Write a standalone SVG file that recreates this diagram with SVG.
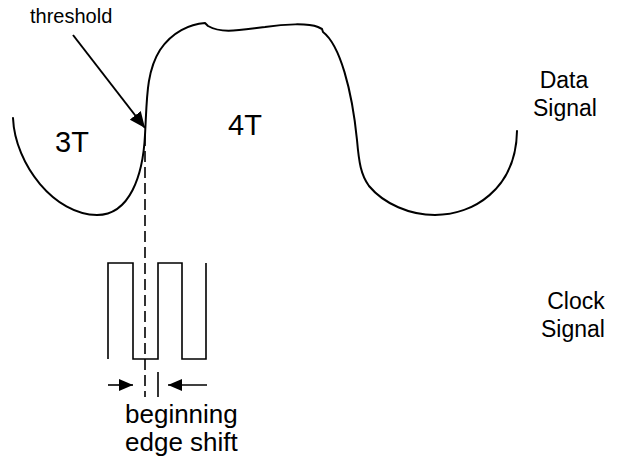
<svg xmlns="http://www.w3.org/2000/svg" width="618" height="465" viewBox="0 0 618 465">
<style>
  text { font-family: "Liberation Sans", Arial, sans-serif; fill: #000; }
  .curve { fill: none; stroke: #000; stroke-width: 2; stroke-linejoin: round; stroke-linecap: round; }
  .thin { fill: none; stroke: #000; stroke-width: 1.6; }
</style>
<defs>
  <marker id="ahBig" viewBox="0 0 10 10" refX="10" refY="5" markerWidth="16" markerHeight="14" markerUnits="userSpaceOnUse" orient="auto" preserveAspectRatio="none">
    <path d="M0,0 L10,5 L0,10 Z" fill="#000"/>
  </marker>
  <marker id="ahSmall" viewBox="0 0 10 10" refX="10" refY="5" markerWidth="14" markerHeight="12" markerUnits="userSpaceOnUse" orient="auto" preserveAspectRatio="none">
    <path d="M0,0 L10,5 L0,10 Z" fill="#000"/>
  </marker>
</defs>
<rect width="618" height="465" fill="#fff"/>

<g id="data-signal">
  <path class="curve" d="M13,118 C15,165 55,215 97,215 C130,215 143,175 145,135 C147,100 146,72 160,50 C172,32 190,24 205,23 L208,26 C222,34 240,30 265,27 C285,24 308,23 318,27 L322,29 L323,32 C340,45 352,90 357,140 C359,163 361,175 369,186 C384,204 410,215 435,215 C472,215 516,190 517,131"/>
</g>

<g id="clock-signal">
  <polyline class="thin" points="108,359 108,263 133,263 133,359 158,359 158,263 182,263 182,359 206,359 206,263"/>
</g>

<g id="connectors">
  <line x1="73" y1="35" x2="145" y2="128" stroke="#000" stroke-width="2" marker-end="url(#ahBig)"/>
  <line x1="145" y1="135" x2="145" y2="397" stroke="#000" stroke-width="1.6" stroke-dasharray="11,5"/>
  <line x1="108" y1="385" x2="133" y2="385" stroke="#000" stroke-width="1.6" marker-end="url(#ahSmall)"/>
  <line x1="207" y1="385" x2="168" y2="385" stroke="#000" stroke-width="1.6" marker-end="url(#ahSmall)"/>
  <line x1="158" y1="372" x2="158" y2="397" stroke="#000" stroke-width="1.6"/>
</g>

<g id="labels">
  <text x="30" y="23" font-size="20">threshold</text>
  <text x="55" y="152" font-size="29">3T</text>
  <text x="228" y="135" font-size="29">4T</text>
  <text x="564" y="88" font-size="23" text-anchor="middle">Data</text>
  <text x="565" y="116" font-size="23" text-anchor="middle">Signal</text>
  <text x="576" y="309" font-size="23" text-anchor="middle">Clock</text>
  <text x="573" y="337" font-size="23" text-anchor="middle">Signal</text>
  <text x="125" y="423" font-size="26">beginning</text>
  <text x="125" y="451" font-size="26">edge shift</text>
</g>
</svg>
